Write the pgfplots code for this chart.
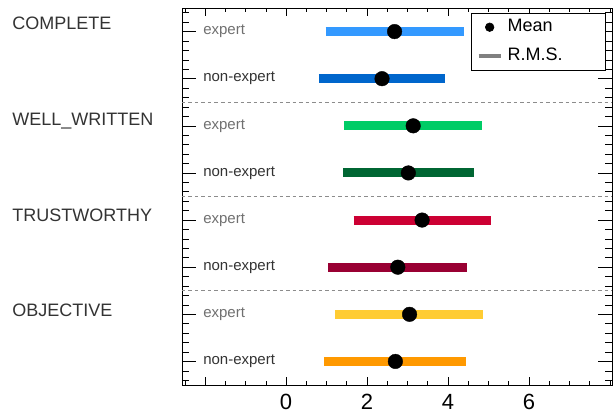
\documentclass[border=0pt]{standalone}
\usepackage{pgfplots}
\pgfplotsset{compat=1.18}
\usepackage{fontspec}
\setmainfont{Liberation Sans}
\definecolor{cA}{HTML}{3399FF}
\definecolor{cB}{HTML}{0066CC}
\definecolor{cC}{HTML}{00CC66}
\definecolor{cD}{HTML}{006633}
\definecolor{cE}{HTML}{CC0033}
\definecolor{cF}{HTML}{990033}
\definecolor{cG}{HTML}{FFCC33}
\definecolor{cH}{HTML}{FF9900}
\definecolor{dashc}{HTML}{8C8C8C}
\definecolor{labc}{HTML}{333333}
\definecolor{expc}{HTML}{707070}
\begin{document}
\begin{tikzpicture}
\useasboundingbox (0,0) rectangle (616pt,416pt);
\begin{axis}[
  at={(182pt,31pt)}, anchor=south west,
  width=430pt, height=377pt, scale only axis,
  xmin=-2.57, xmax=8.05, ymin=-0.5, ymax=7.5,
  clip=false,
  axis line style={black, line width=0.7pt},
  xtick={-2,0,2,4,6}, xticklabels={,0,2,4,6},
  minor xtick={-2.5,-2,...,8},
  ytick=\empty,
  major tick length=8pt, minor tick length=4pt,
  tick style={black, line width=0.6pt},
  tick align=inside,
  /pgf/number format/assume math mode=true,
  x tick label style={font=\fontsize{22}{24}\selectfont, inner sep=0pt, anchor=north, yshift=-9pt},
  legend style={at={(0.986,0.987)}, anchor=north east, draw=black, line width=0.6pt,
    font=\fontsize{18}{20}\selectfont, inner xsep=5pt, inner ysep=5.5pt, row sep=12pt,
    nodes={inner xsep=5pt, inner ysep=0pt, text height=13pt, text depth=4pt, text width=88pt, align=left}},
  legend cell align=left,
]
\addlegendimage{legend image code/.code={\fill[black] (11pt,0pt) circle (4.3pt);}}
\addlegendentry{Mean}
\addlegendimage{legend image code/.code={\draw[line width=4pt, color=gray] (0pt,0pt) -- (22pt,0pt);}}
\addlegendentry{R.M.S.}

% separators
\draw[dashc, line width=0.6pt, dash pattern=on 3.5pt off 3pt] ({rel axis cs:0,0}|-{axis cs:0,1.5}) -- ({rel axis cs:1,0}|-{axis cs:0,1.5});
\draw[dashc, line width=0.6pt, dash pattern=on 3.5pt off 3pt] ({rel axis cs:0,0}|-{axis cs:0,3.5}) -- ({rel axis cs:1,0}|-{axis cs:0,3.5});
\draw[dashc, line width=0.6pt, dash pattern=on 3.5pt off 3pt] ({rel axis cs:0,0}|-{axis cs:0,5.5}) -- ({rel axis cs:1,0}|-{axis cs:0,5.5});

% y ticks
\pgfplotsinvokeforeach{0,1,2,3,4,5,6,7}{
  \draw[black, line width=0.6pt] ({rel axis cs:0,0}|-{axis cs:0,#1}) -- ++(14pt,0pt);
  \draw[black, line width=0.6pt] ({rel axis cs:1,0}|-{axis cs:0,#1}) -- ++(-14pt,0pt);
}
\pgfplotsinvokeforeach{-0.4,-0.2,0.2,0.4,0.6,0.8,1.2,1.4,1.6,1.8,2.2,2.4,2.6,2.8,3.2,3.4,3.6,3.8,4.2,4.4,4.6,4.8,5.2,5.4,5.6,5.8,6.2,6.4,6.6,6.8,7.2,7.4}{
  \draw[black, line width=0.6pt] ({rel axis cs:0,0}|-{axis cs:0,#1}) -- ++(7pt,0pt);
  \draw[black, line width=0.6pt] ({rel axis cs:1,0}|-{axis cs:0,#1}) -- ++(-7pt,0pt);
}

% R.M.S. bars
\addplot[forget plot, line width=9pt, color=cA] coordinates {(0.98,7) (4.39,7)};
\addplot[forget plot, line width=9pt, color=cB] coordinates {(0.81,6) (3.93,6)};
\addplot[forget plot, line width=9pt, color=cC] coordinates {(1.44,5) (4.85,5)};
\addplot[forget plot, line width=9pt, color=cD] coordinates {(1.41,4) (4.64,4)};
\addplot[forget plot, line width=9pt, color=cE] coordinates {(1.67,3) (5.06,3)};
\addplot[forget plot, line width=9pt, color=cF] coordinates {(1.04,2) (4.48,2)};
\addplot[forget plot, line width=9pt, color=cG] coordinates {(1.22,1) (4.87,1)};
\addplot[forget plot, line width=9pt, color=cH] coordinates {(0.94,0) (4.44,0)};

% means
\addplot[forget plot, only marks, mark=*, mark size=7.3pt, black] coordinates {
  (2.68,7) (2.37,6) (3.14,5) (3.02,4) (3.36,3) (2.76,2) (3.05,1) (2.70,0)};

% row labels
\pgfplotsinvokeforeach{7,5,3,1}{
  \node[anchor=west, inner sep=0pt, text=expc, font=\fontsize{15}{17}\selectfont] at (axis cs:-2.05,#1) {expert};
}
\pgfplotsinvokeforeach{6,4,2,0}{
  \node[anchor=west, inner sep=0pt, text=labc, font=\fontsize{15}{17}\selectfont] at (axis cs:-2.05,#1) {non-expert};
}
% category labels
\node[anchor=base west, inner sep=0pt, text=labc, font=\fontsize{18}{20}\selectfont] at (axis cs:-6.765,7.04) {COMPLETE};
\node[anchor=base west, inner sep=0pt, text=labc, font=\fontsize{18}{20}\selectfont] at (axis cs:-6.765,5.01) {WELL\_WRITTEN};
\node[anchor=base west, inner sep=0pt, text=labc, font=\fontsize{18}{20}\selectfont] at (axis cs:-6.765,2.97) {TRUSTWORTHY};
\node[anchor=base west, inner sep=0pt, text=labc, font=\fontsize{18}{20}\selectfont] at (axis cs:-6.765,0.96) {OBJECTIVE};
\end{axis}
\end{tikzpicture}
\end{document}
